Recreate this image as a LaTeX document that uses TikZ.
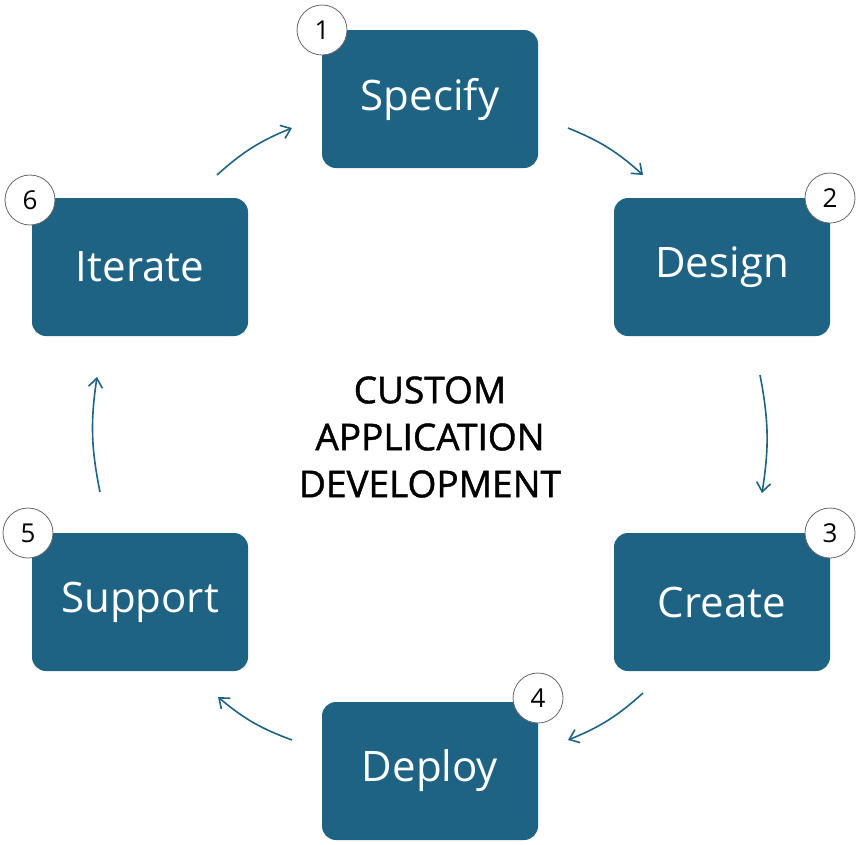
\documentclass[tikz,border=0pt]{standalone}
\usepackage{fontspec}
\setmainfont{Open Sans}
\newfontfamily\ctrfont{Open Sans}[FakeBold=1.2]
\usetikzlibrary{arrows.meta}
\definecolor{teal1}{HTML}{1E6383}
\begin{document}
\begin{tikzpicture}[x=1pt,y=-1pt,
  box/.style={fill=teal1,rounded corners=14pt,minimum width=216pt,minimum height=138pt,text=white,font=\fontsize{42}{48}\selectfont},
  num/.style={circle,draw=black!60,line width=0.8pt,fill=white,minimum size=50pt,inner sep=0pt,font=\fontsize{26}{30}\selectfont},
  arr/.style={draw=teal1,line width=1.6pt,-{Straight Barb[length=9pt,width=14pt]}}]
\useasboundingbox (0,0) rectangle (860,844);
\node[box] (s1) at (430,99) {Specify};
\node[box] (s2) at (722,267) {Design};
\node[box] (s3) at (722,602) {Create};
\node[box] (s4) at (430,771) {Deploy};
\node[box] (s5) at (140,602) {Support};
\node[box] (s6) at (140,267) {Iterate};
\node[num] (n1) at (322,30) {1};
\node[num] (n2) at (830,198) {2};
\node[num] (n3) at (830,533) {3};
\node[num] (n4) at (538,698) {4};
\node[num] (n5) at (28,533) {5};
\node[num] (n6) at (30,200) {6};
\node[align=center,font=\ctrfont\fontsize{37}{47}\selectfont] (c) at (430,437) {CUSTOM\\APPLICATION\\DEVELOPMENT};
\coordinate (a1) at (568,128); \coordinate (b1) at (643,175);
\coordinate (a2) at (760,375); \coordinate (b2) at (762,493);
\coordinate (a3) at (643,693); \coordinate (b3) at (568,740);
\coordinate (a4) at (292,740); \coordinate (b4) at (218,697);
\coordinate (a5) at (100,492); \coordinate (b5) at (97,377);
\coordinate (a6) at (217,175); \coordinate (b6) at (292,128);
\draw[arr] (a1) to[bend left=10] (b1);
\draw[arr] (a2) to[bend left=10] (b2);
\draw[arr] (a3) to[bend left=10] (b3);
\draw[arr] (a4) to[bend left=10] (b4);
\draw[arr] (a5) to[bend left=10] (b5);
\draw[arr] (a6) to[bend left=10] (b6);
\end{tikzpicture}
\end{document}
